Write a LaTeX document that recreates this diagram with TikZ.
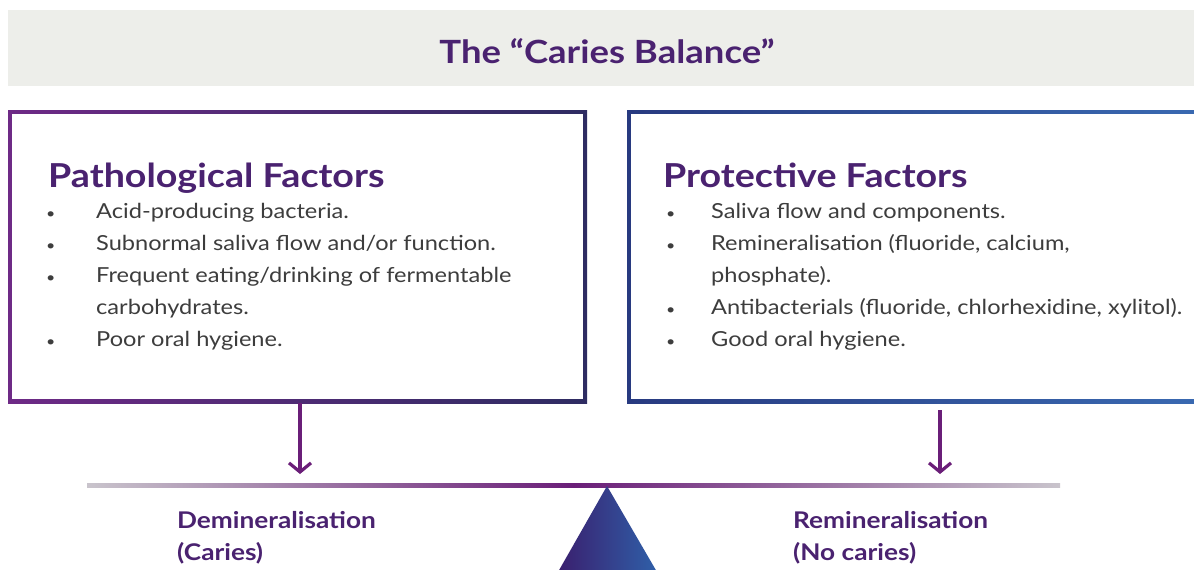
\documentclass[tikz,border=0pt]{standalone}
\usepackage{fontspec}
\setmainfont{Lato}[FakeStretch=1.14]
\usetikzlibrary{arrows.meta}
\definecolor{headpurple}{HTML}{4A2270}
\definecolor{arrowpurple}{HTML}{6A1E78}
\definecolor{bodygray}{HTML}{3D3D3D}
\definecolor{bandgray}{HTML}{EDEEEA}
\definecolor{boxmag}{HTML}{6E2A86}
\definecolor{boxnavy}{HTML}{2E2C62}
\definecolor{boxnavyb}{HTML}{283A80}
\definecolor{boxblue}{HTML}{3A6AB2}
\definecolor{beamgray}{HTML}{C9C4CC}
\definecolor{triL}{HTML}{3A1F6E}
\definecolor{triR}{HTML}{2F5FA8}
\tikzset{
  heading/.style={anchor=base west, inner sep=0pt, text=headpurple, font=\fontsize{33}{38}\selectfont\bfseries},
  item/.style={anchor=base west, inner sep=0pt, text=bodygray, font=\fontsize{20.7}{32}\selectfont},
  bul/.style={anchor=base west, inner sep=0pt, text=bodygray, font=\fontsize{14}{32}\selectfont},
  outcome/.style={anchor=base west, inner sep=0pt, text=headpurple, font=\fontsize{23}{32}\selectfont\bfseries},
  downarrow/.style={draw=arrowpurple, line width=3.2pt, -{Straight Barb[length=9pt, width=22pt, line width=3.2pt]}},
  frame/.style={inner sep=0pt, draw=none}
}
\begin{document}
\begin{tikzpicture}[x=1pt, y=-1pt]
\clip (0,0) rectangle (1194,570);
\useasboundingbox (0,0) rectangle (1194,570);
\fill[white] (0,0) rectangle (1194,570);

% title band
\node[fill=bandgray, minimum width=1190pt, minimum height=76pt, inner sep=0pt] (band) at (603,48) {};
\node[inner sep=0pt, anchor=base, text=headpurple, font=\fontsize{32}{38}\selectfont\bfseries] (title) at (607,63) {The “Caries Balance”};

% left box frame
\shade[left color=boxmag, right color=boxnavy] (8,110) rectangle (587,403);
\fill[white] (12,114) rectangle (583,399);
\node[frame, minimum width=579pt, minimum height=293pt] (L) at (297.5,256.5) {};

% right box frame
\shade[left color=boxnavyb, right color=boxblue] (627,110) rectangle (1210,403);
\fill[white] (631,114) rectangle (1206,399);
\node[frame, minimum width=583pt, minimum height=293pt] (R) at (918.5,256.5) {};

% left content
\node[heading] (Lh) at (48,187) {Pathological Factors};
\node[bul] (Lb1) at (46,218) {•};
\node[item] (Li1) at (96,218) {Acid-producing bacteria.};
\node[bul] (Lb2) at (46,250) {•};
\node[item] (Li2) at (96,250) {Subnormal saliva flow and/or function.};
\node[bul] (Lb3) at (46,282) {•};
\node[item] (Li3) at (96,282) {Frequent eating/drinking of fermentable};
\node[item] (Li3b) at (96,314) {carbohydrates.};
\node[bul] (Lb4) at (46,346) {•};
\node[item] (Li4) at (96,346) {Poor oral hygiene.};

% right content
\node[heading] (Rh) at (663,187) {Protective Factors};
\node[bul] (Rb1) at (666,218) {•};
\node[item] (Ri1) at (711,218) {Saliva flow and components.};
\node[bul] (Rb2) at (666,250) {•};
\node[item] (Ri2) at (711,250) {Remineralisation (fluoride, calcium,};
\node[item] (Ri2b) at (711,282) {phosphate).};
\node[bul] (Rb3) at (666,314) {•};
\node[item] (Ri3) at (711,314) {Antibacterials (fluoride, chlorhexidine, xylitol).};
\node[bul] (Rb4) at (666,346) {•};
\node[item] (Ri4) at (711,346) {Good oral hygiene.};

% beam
\shade[left color=beamgray, right color=beamgray, middle color=arrowpurple] (87,483.5) rectangle (1060,487.5);
\coordinate (bl) at (300,474);
\coordinate (br) at (940,474);
\coordinate (rtop) at (940,410);

% fulcrum
\shade[left color=triL, right color=triR] (607,486) -- (558,572) -- (657,572) -- cycle;

% arrows
\draw[downarrow] (L.south -| bl) -- (bl);
\draw[downarrow] (rtop) -- (br);

% outcomes
\node[outcome] (D1) at (177,528) {Demineralisation};
\node[outcome] (D2) at (177,560) {(Caries)};
\node[outcome] (M1) at (793,528) {Remineralisation};
\node[outcome] (M2) at (793,560) {(No caries)};
\end{tikzpicture}
\end{document}
